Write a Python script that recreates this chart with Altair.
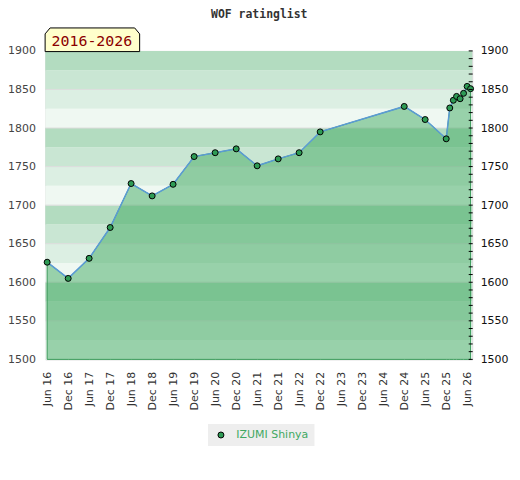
import altair as alt
import pandas as pd

# ---------------- data ----------------
title_text = ["WOF ratinglist"]
range_text = ["2016-2026"]
player = ["IZUMI Shinya"]

dates = ["2016-06-01", "2016-12-01", "2017-06-01", "2017-12-01", "2018-06-01",
         "2018-12-01", "2019-06-01", "2019-12-01", "2020-06-01", "2020-12-01",
         "2021-06-01", "2021-12-01", "2022-06-01", "2022-12-01", "2024-12-01",
         "2025-06-01", "2025-12-01", "2026-01-01", "2026-02-01", "2026-03-01",
         "2026-04-01", "2026-05-01", "2026-06-01", "2026-07-01"]
ratings = [1626, 1605, 1631, 1671, 1728, 1712, 1727, 1763, 1768, 1773,
           1751, 1760, 1768, 1795, 1828, 1811, 1786, 1826, 1836, 1841,
           1838, 1845, 1854, 1851]

band_lows = list(range(1500, 1900, 25))
band_colors = ["#eff8f2", "#dcefe3", "#c9e6d3", "#b3dcc0"]
grid_values = list(range(1550, 1900, 50))
minor_ticks = list(range(1500, 1901, 10))
y_labels = list(range(1500, 1901, 50))
x_tick_dates = [(y, m) for y in range(2016, 2027) for m in (6, 12)][:-1]

W, H = 429, 310

df = pd.DataFrame({"date": pd.to_datetime(dates), "rating": ratings,
                   "player": player * len(dates)})
bands = pd.DataFrame({"lo": band_lows,
                      "hi": [b + 25 for b in band_lows],
                      "c": [band_colors[((b - 1500) % 100) // 25] for b in band_lows]})
grid = pd.DataFrame({"v": grid_values})
ticks = pd.DataFrame({"v": minor_ticks})

yscale = alt.Scale(domain=[1500, 1900], nice=False, zero=False)
xscale = alt.Scale(domain=[alt.DateTime(year=2016, month=5, date=16),
                           alt.DateTime(year=2026, month=7, date=15)])

x_axis = alt.Axis(values=[alt.DateTime(year=y, month=m, date=1) for y, m in x_tick_dates],
                  format="%b %y", labelAngle=-90, title=None, ticks=False, domain=False,
                  grid=False, labelPadding=12, labelFont="DejaVu Sans", labelFontSize=11,
                  labelColor="#333", labelOverlap=False)
x_enc = alt.X("date:T", scale=xscale, axis=x_axis)

left_axis = alt.Axis(values=y_labels, orient="left", title=None, domain=False, ticks=False,
                     grid=False, labelPadding=10, labelFont="DejaVu Sans", labelFontSize=11,
                     labelColor="#444", format="d")
right_axis = alt.Axis(values=y_labels, orient="right", title=None, domain=False, ticks=False,
                      grid=False, labelPadding=8, labelFont="DejaVu Sans", labelFontSize=11,
                      labelColor="#111", format="d")

band_layer = alt.Chart(bands).mark_rect().encode(
    x=alt.value(0), x2=alt.value(W),
    y=alt.Y("lo:Q", scale=yscale, axis=left_axis), y2="hi:Q",
    color=alt.Color("c:N", scale=None))

grid_layer = alt.Chart(grid).mark_rule(color="#dddddd", strokeWidth=1).encode(
    x=alt.value(0), x2=alt.value(W),
    y=alt.Y("v:Q", scale=yscale, axis=None))

area_layer = alt.Chart(df).mark_area(color="#41aa62", fillOpacity=0.5, stroke="#3a9a5a",
                                     strokeWidth=1, strokeOpacity=1).encode(
    x=x_enc, y=alt.Y("rating:Q", scale=yscale, axis=None), y2=alt.datum(1500))

line_layer = alt.Chart(df).mark_line(color="#5b9bd5", strokeWidth=1.5).encode(
    x=x_enc, y=alt.Y("rating:Q", scale=yscale, axis=None))

point_layer = alt.Chart(df).mark_point(filled=True, opacity=1, size=36, stroke="black",
                                       strokeWidth=1).encode(
    x=x_enc, y=alt.Y("rating:Q", scale=yscale, axis=None),
    color=alt.Color("player:N", scale=alt.Scale(range=["#2e9b55"]),
                    legend=alt.Legend(orient="none", legendX=163.5, legendY=375,
                                      fillColor="#eeeeee", padding=5.5, title=None,
                                      labelColor="#3fa862", labelFont="DejaVu Sans",
                                      labelFontSize=11, symbolSize=36, symbolType="circle",
                                      symbolStrokeColor="black", symbolStrokeWidth=1,
                                      symbolOffset=2, labelOffset=10)))

tick_layer = alt.Chart(ticks).mark_rule(color="black", strokeWidth=1).encode(
    x=alt.value(W - 3.5), x2=alt.value(W + 0.5),
    y=alt.Y("v:Q", scale=yscale, axis=right_axis))

box_layer = alt.Chart(pd.DataFrame({"t": range_text})).mark_point(
    shape="M-1,0.25L-1,-0.124L-0.895,-0.25L0.895,-0.25L1,-0.124L1,0.25Z",
    filled=True, fill="#ffffcc", stroke="black", strokeWidth=1, opacity=1, size=9025).encode(
    x=alt.value(47.3), y=alt.value(-11.2))

box_text = alt.Chart(pd.DataFrame({"t": range_text})).mark_text(
    font="DejaVu Sans Mono", fontSize=15, color="#8b0000", align="left",
    baseline="alphabetic").encode(x=alt.value(6.2), y=alt.value(-4.5), text="t:N")

title_layer = alt.Chart(pd.DataFrame({"t": title_text})).mark_text(
    font="DejaVu Sans Mono", fontSize=11.5, fontWeight="bold", color="#333",
    align="center", baseline="alphabetic").encode(x=alt.value(215), y=alt.value(-33), text="t:N")

chart = alt.layer(band_layer, grid_layer, area_layer, line_layer, point_layer, tick_layer,
                  box_layer, box_text, title_layer).resolve_axis(y="independent").properties(
    width=W, height=H,
    autosize=alt.AutoSizeParams(type="none"),
    padding={"left": 37.5, "top": 42, "right": 40, "bottom": 100},
).configure_view(stroke="#d6d6d6", strokeWidth=1)

chart.save("out.html", embed_options={"renderer": "svg", "actions": False})
